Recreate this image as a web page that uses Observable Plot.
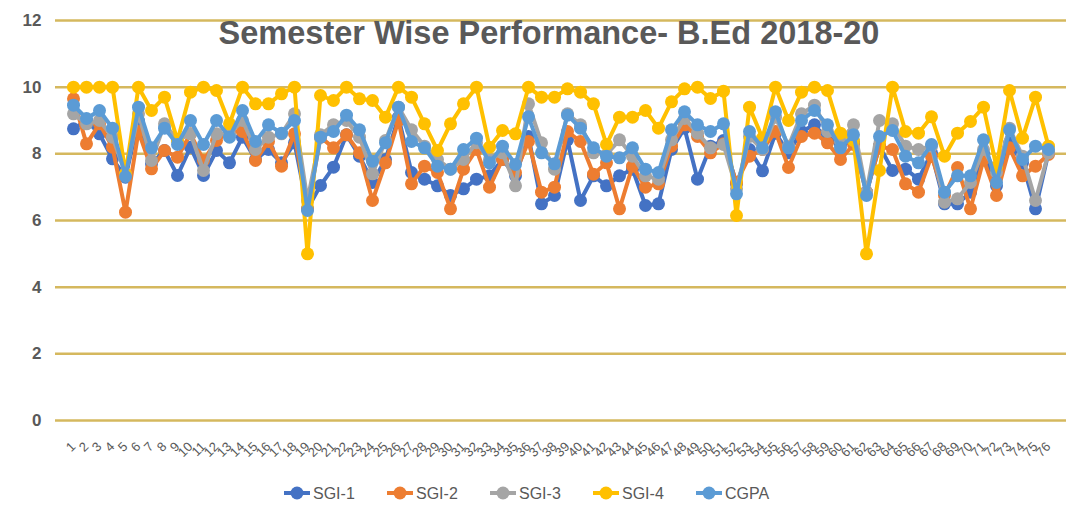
<!DOCTYPE html>
<html><head><meta charset="utf-8">
<script src="https://cdn.jsdelivr.net/npm/d3@7"></script>
<script src="https://cdn.jsdelivr.net/npm/@observablehq/plot@0.6"></script>
<style>
body{margin:0;background:#fff;font-family:"Liberation Sans",Arial,sans-serif;}
#chart{position:relative;width:1079px;height:532px;overflow:hidden;}
#legend{position:absolute;left:0;top:478px;}
</style></head><body><div id="chart"></div>
<script>
const students = [1,2,3,4,5,6,7,8,9,10,11,12,13,14,15,16,17,18,19,20,21,22,23,24,25,26,27,28,29,30,31,32,33,34,35,36,37,38,39,40,41,42,43,44,45,46,47,48,49,50,51,52,53,54,55,56,57,58,59,60,61,62,63,64,65,66,67,68,69,70,71,72,73,74,75,76];
const sgi1 = [8.75,9.0,8.6,7.85,7.3,9.0,7.7,8.1,7.35,8.2,7.35,8.1,7.73,8.5,7.83,8.13,7.73,8.33,6.35,7.05,7.6,8.57,7.93,7.14,7.83,9.1,7.44,7.24,7.04,6.75,6.95,7.24,7.34,7.83,7.34,8.52,6.5,6.75,8.42,6.6,7.34,7.04,7.34,7.54,6.45,6.5,8.13,8.77,7.24,8.23,8.4,7.1,8.13,7.49,8.62,8.03,8.67,8.87,8.42,8.28,8.37,6.85,8.23,7.5,7.54,7.24,8.03,6.5,6.5,6.85,8.03,7.04,8.33,7.73,6.35,8.03];
const sgi2 = [9.65,8.3,8.9,8.2,6.25,8.67,7.55,8.1,7.9,8.6,7.8,8.4,8.67,8.67,7.8,8.37,7.63,8.6,6.35,8.5,8.18,8.57,8.03,6.6,7.73,9.0,7.1,7.63,7.44,6.35,7.54,8.13,7.0,7.83,7.44,8.37,6.85,7.0,8.67,8.37,7.39,7.73,6.35,7.63,7.0,7.1,8.23,8.87,8.52,8.03,8.3,7.14,7.93,8.13,8.67,7.59,8.52,8.62,8.33,7.83,8.28,6.85,8.23,8.13,7.1,6.85,7.93,6.75,7.59,6.35,7.83,6.75,8.18,7.34,7.63,7.98];
const sgi3 = [9.2,8.9,9.0,8.5,7.4,9.2,7.8,8.9,8.4,8.6,7.5,8.6,8.6,9.0,8.13,8.5,8.6,9.2,6.6,8.57,8.87,9.0,8.5,7.4,8.4,9.4,8.72,8.23,7.83,7.54,7.83,8.33,7.83,8.03,7.04,9.5,8.33,7.54,9.2,8.87,8.03,7.98,8.42,7.93,7.34,7.24,8.42,9.06,8.62,8.18,8.28,6.95,8.52,8.13,9.1,8.23,9.2,9.46,8.67,8.37,8.87,6.85,9.0,8.9,8.23,8.13,8.23,6.55,6.65,7.14,8.13,7.44,8.77,7.93,6.6,8.03];
const sgi4 = [10.0,10.0,10.0,10.0,7.4,10.0,9.3,9.7,8.4,9.85,10.0,9.9,8.9,10.0,9.5,9.5,9.8,10.0,5.0,9.75,9.6,10.0,9.65,9.6,9.1,10.0,9.7,8.9,8.1,8.9,9.5,10.0,8.2,8.7,8.6,10.0,9.7,9.7,9.95,9.85,9.5,8.28,9.1,9.1,9.3,8.77,9.56,9.95,10.0,9.66,9.88,6.15,9.4,8.47,10.0,9.0,9.85,10.0,9.9,8.62,8.4,5.0,7.5,10.0,8.67,8.62,9.11,7.93,8.62,8.97,9.4,7.6,9.9,8.47,9.7,8.23];
const cgpa = [9.46,9.06,9.3,8.77,7.32,9.4,8.18,8.77,8.28,9.0,8.28,9.0,8.5,9.3,8.37,8.87,8.62,9.0,6.3,8.5,8.67,9.16,8.72,7.78,8.33,9.4,8.37,8.18,7.63,7.54,8.13,8.47,7.73,8.23,7.68,9.11,8.03,7.7,9.16,8.77,8.18,7.93,7.88,8.18,7.54,7.44,8.72,9.26,8.87,8.67,8.9,6.8,8.67,8.18,9.26,8.18,9.0,9.3,8.87,8.18,8.57,6.75,8.52,8.7,7.93,7.73,8.28,6.85,7.34,7.34,8.42,7.14,8.72,7.83,8.23,8.13];
const seriesNames = ["SGI-1","SGI-2","SGI-3","SGI-4","CGPA"];
const seriesColors = ["#4472C4","#ED7D31","#A5A5A5","#FFC000","#5B9BD5"];
const yTicks = [0,2,4,6,8,10,12];
const titleText = "Semester Wise Performance- B.Ed 2018-20";

const seriesValues = [sgi1,sgi2,sgi3,sgi4,cgpa];
const tables = seriesValues.map((arr,k)=>arr.map((v,i)=>({student:students[i], value:v, series:seriesNames[k]})));

const font = '"Liberation Sans", Arial, sans-serif';
const marks = [
  Plot.ruleY(yTicks,{stroke:"#D5B85E", strokeWidth:2.5}),
  Plot.axisY({ticks:yTicks, tickSize:0, tickPadding:14, fontSize:17, fontWeight:"bold", fill:"#595959", label:null}),
  Plot.axisX({tickSize:0, tickRotate:-45, tickPadding:24, fontSize:13, fill:"#595959", label:null})
];
tables.forEach((t,k)=>{
  marks.push(Plot.line(t,{x:"student", y:"value", stroke:seriesColors[k], strokeWidth:4}));
  marks.push(Plot.dot(t,{x:"student", y:"value", fill:seriesColors[k], r:6.5}));
});
marks.push(Plot.text([titleText],{frameAnchor:"top", dx:-12, dy:13, lineAnchor:"middle", fontSize:32.5, fontWeight:"bold", fill:"#595959", fontFamily:font}));

const plot = Plot.plot({
  width:1079, height:475,
  marginLeft:55, marginRight:13, marginTop:20, marginBottom:55,
  style:{fontFamily:font, background:"transparent", color:"#595959"},
  x:{type:"point", domain:students, padding:0.5},
  y:{domain:[0,12]},
  marks
});
const chart = document.getElementById("chart");
chart.appendChild(plot);

// legend
const leg = d3.select(chart).append("svg").attr("id","legend").attr("width",1079).attr("height",32);
const legX = [297,400,503,606,709];
seriesNames.forEach((name,k)=>{
  const g = leg.append("g").attr("transform",`translate(${legX[k]},15)`);
  g.append("line").attr("x1",-13).attr("x2",13).attr("stroke",seriesColors[k]).attr("stroke-width",4);
  g.append("circle").attr("r",6.5).attr("fill",seriesColors[k]);
  g.append("text").attr("x",16).attr("dy","0.36em").attr("font-size",16).attr("fill","#595959").attr("font-family",font).text(name);
});
</script></body></html>
